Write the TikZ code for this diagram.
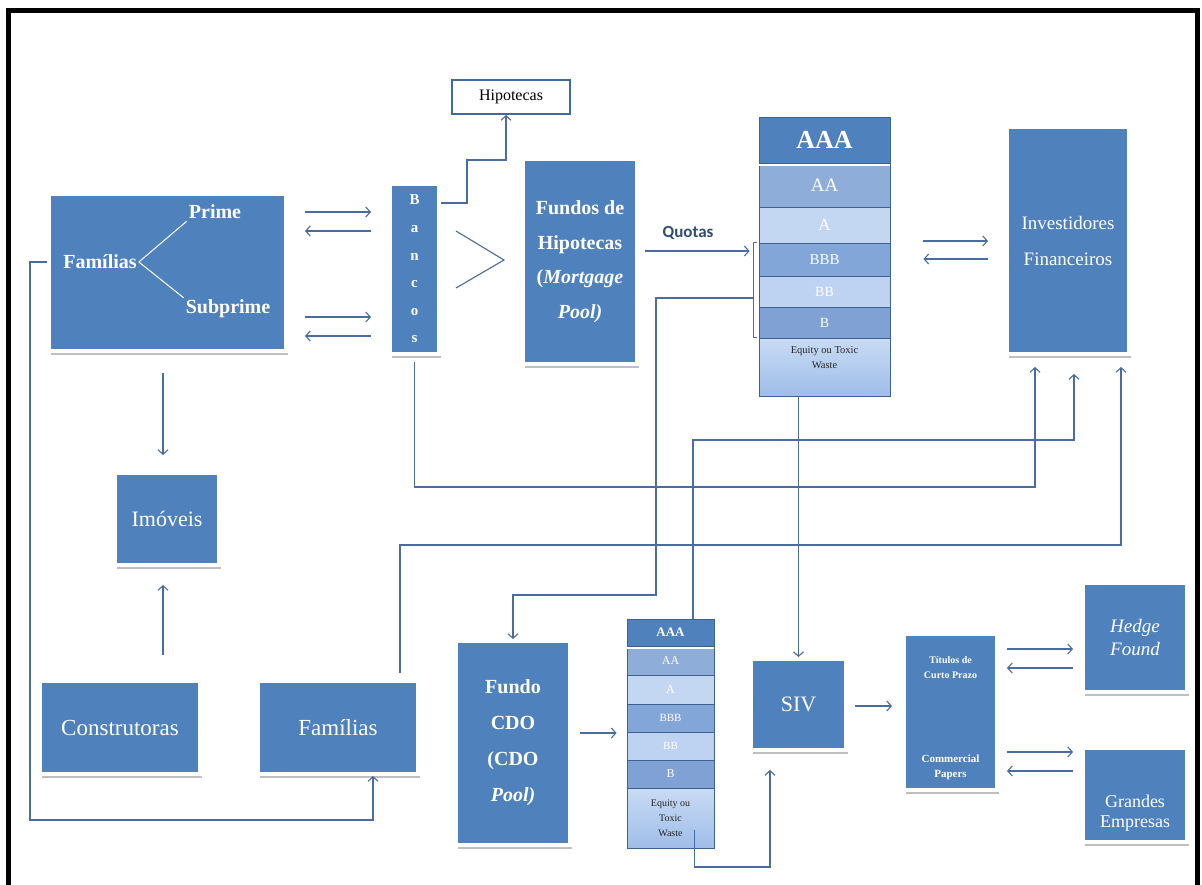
\documentclass[tikz,border=0pt]{standalone}
\usepackage{fontspec}
\setmainfont{Liberation Serif}
\newfontfamily\qfont{Carlito}
\usetikzlibrary{arrows.meta,shadows,calc}
\definecolor{boxblue}{HTML}{4F81BD}
\definecolor{conncol}{HTML}{4A6C9E}
\definecolor{trline}{HTML}{3D6191}
\definecolor{hipcol}{HTML}{3F6A9E}
\definecolor{tAA}{HTML}{8FADD9}
\definecolor{tA}{HTML}{C4D7F2}
\definecolor{tBBB}{HTML}{83A6D8}
\definecolor{tBB}{HTML}{BDD3F1}
\definecolor{tB}{HTML}{7FA1D4}
\definecolor{eqtop}{HTML}{C9DBF4}
\definecolor{eqbot}{HTML}{9FBDE9}
\definecolor{quotacol}{HTML}{2F4C74}
\newcommand\myfs[2]{\fontsize{#1}{#2}\selectfont}

\begin{document}
\begin{tikzpicture}[x=1pt,y=-1pt,
  bluebox/.style={draw=white, line width=4pt, fill=boxblue, inner sep=0pt,
    text=white, align=center,
    drop shadow={shadow xshift=1.5pt, shadow yshift=-4pt, opacity=0.25, fill=black}},
  tr/.style={draw=trline, line width=0.8pt, inner sep=0pt, text=white, align=center},
  wtext/.style={text=white, inner sep=2pt, align=center},
  conn/.style={draw=conncol, line width=1.1pt, -{Straight Barb[length=4.5pt,width=10pt]}},
  link/.style={draw=conncol, line width=1.1pt}]

\useasboundingbox (0,0) rectangle (1202,884);
\fill[white] (0,0) rectangle (1202,884);

% outer frame
\draw[line width=5pt] (8,900) -- (8,10) -- (1197,10) -- (1197,900);

% ---------- boxes ----------
\node[bluebox, minimum width=237, minimum height=157] (fam1) at (167.5,272.5) {};
\node[wtext, font=\bfseries\myfs{20}{24}] (famtxt) at (100,262) {Famílias};
\node[wtext, font=\bfseries\myfs{20}{24}] (prime) at (215,212) {Prime};
\node[wtext, font=\bfseries\myfs{20}{24}] (subprime) at (228,309) {Subprime};
\draw[white, line width=1pt] (famtxt.east) -- (prime.south west);
\draw[white, line width=1pt] (famtxt.east) -- (subprime.north west);

\node[bluebox, minimum width=49, minimum height=170, font=\bfseries\myfs{15}{27.6}]
  (bancos) at (414.5,269) {B\\a\\n\\c\\o\\s};

\node[draw=hipcol, line width=2pt, fill=white, minimum width=118, minimum height=34,
  font=\myfs{16}{18}] (hipo) at (511,97) {Hipotecas};

\node[bluebox, minimum width=114, minimum height=205, font=\bfseries\myfs{20}{34.5}]
  (fundos) at (580,261.5) {Fundos de\\Hipotecas\\(\textit{Mortgage}\\\textit{Pool)}};

\node[bluebox, minimum width=122, minimum height=227, font=\myfs{19}{36}]
  (inv) at (1068,240.5) {Investidores\\Financeiros};

\node[bluebox, minimum width=104, minimum height=92, font=\myfs{22}{26}]
  (imov) at (167,519) {Imóveis};
\node[bluebox, minimum width=160, minimum height=93, font=\myfs{23}{26}]
  (constr) at (120,727.5) {Construtoras};
\node[bluebox, minimum width=160, minimum height=93, font=\myfs{23}{26}]
  (fam2) at (338,727.5) {Famílias};

\node[bluebox, minimum width=114, minimum height=204, font=\bfseries\myfs{20}{36}]
  (cdo) at (513,743) {Fundo\\CDO\\(CDO\\\textit{Pool)}};

\node[bluebox, minimum width=95, minimum height=91, font=\myfs{22}{26}]
  (siv) at (798.5,704.5) {SIV};

\node[bluebox, minimum width=93, minimum height=156] (tit) at (950.5,712) {};
\node[wtext, font=\bfseries\myfs{10}{15}] (tittop) at (950.5,668) {Títulos de\\Curto Prazo};
\node[wtext, font=\bfseries\myfs{11}{15}] (titbot) at (950.5,767) {Commercial\\Papers};

\node[bluebox, minimum width=104, minimum height=109, font=\itshape\myfs{19}{23}]
  (hedge) at (1135,637.5) {Hedge\\Found};
\node[bluebox, minimum width=104, minimum height=94] (grandes) at (1135,795) {};
\node[wtext, font=\myfs{18}{20}] (grtxt) at (1135,813) {Grandes\\Empresas};

% ---------- tranche stack (mortgage pool) ----------
\begin{scope}[tr/.append style={minimum width=131}]
  \node[tr, fill=boxblue, minimum height=46, font=\bfseries\myfs{26}{28}] (s1aaa) at (824.5,140) {AAA};
  \node[tr, fill=tAA, minimum height=44, font=\myfs{19}{21}] (s1aa) at (824.5,185) {AA};
  \node[tr, fill=tA, minimum height=36, font=\myfs{17}{19}] (s1a) at (824.5,225) {A};
  \node[tr, fill=tBBB, minimum height=33, font=\myfs{15}{17}] (s1bbb) at (824.5,259.5) {BBB};
  \node[tr, fill=tBB, minimum height=31, font=\myfs{14}{16}] (s1bb) at (824.5,291.5) {BB};
  \node[tr, fill=tB, minimum height=31, font=\myfs{14}{16}] (s1b) at (824.5,322.5) {B};
  \node[tr, top color=eqtop, bottom color=eqbot, minimum height=58] (s1eq) at (824.5,367) {};
\end{scope}
\draw[white, line width=1.6pt] ([yshift=-1.6pt]s1aaa.south west) -- ([yshift=-1.6pt]s1aaa.south east);
\node[inner sep=0pt, align=center, text=black!85, font=\myfs{10.5}{15}] (s1eqt) at (824.5,357.5) {Equity ou Toxic\\Waste};

% ---------- tranche stack (CDO) ----------
\begin{scope}[tr/.append style={minimum width=87}]
  \node[tr, fill=boxblue, minimum height=27, font=\bfseries\myfs{13}{15}] (s2aaa) at (670.5,632.5) {AAA};
  \node[tr, fill=tAA, minimum height=29, font=\myfs{12}{14}] (s2aa) at (670.5,660.5) {AA};
  \node[tr, fill=tA, minimum height=29, font=\myfs{12}{14}] (s2a) at (670.5,689.5) {A};
  \node[tr, fill=tBBB, minimum height=28, font=\myfs{11}{13}] (s2bbb) at (670.5,718) {BBB};
  \node[tr, fill=tBB, minimum height=28, font=\myfs{11}{13}] (s2bb) at (670.5,746) {BB};
  \node[tr, fill=tB, minimum height=28, font=\myfs{12}{14}] (s2b) at (670.5,774) {B};
  \node[tr, top color=eqtop, bottom color=eqbot, minimum height=60, text=black!85,
    font=\myfs{10}{15}] (s2eq) at (670.5,818) {Equity ou\\Toxic\\Waste};
\end{scope}
\draw[white, line width=1.4pt] ([yshift=-1.4pt]s2aaa.south west) -- ([yshift=-1.4pt]s2aaa.south east);

% ---------- connectors ----------
% families <-> banks
\draw[conn, shorten <=17pt, shorten >=17pt] (fam1.east|-0,212) -- (bancos.west|-0,212);
\draw[conn, shorten <=17pt, shorten >=17pt] (bancos.west|-0,231) -- (fam1.east|-0,231);
\draw[conn, shorten <=17pt, shorten >=17pt] (fam1.east|-0,317) -- (bancos.west|-0,317);
\draw[conn, shorten <=17pt, shorten >=17pt] (bancos.west|-0,336) -- (fam1.east|-0,336);

% banks -> mortgages
\draw[conn] (bancos.east|-0,203) -| (467,160) -| (hipo.south-|506,0);

% banks > mortgage pool
\draw[link] (456,231) -- (504,260) -- (456,288);

% mortgage pool -> tranches
\draw[conn, shorten <=6pt, shorten >=9pt] (fundos.east|-0,251) -- (s1bbb.west|-0,251);
\node[font=\qfont\bfseries\myfs{17}{20}, text=quotacol, inner sep=0pt] (quotas) at (688,233) {Quotas};

% bracket on the lower tranches
\coordinate (brk) at (753,298);
\draw[link, line width=0.9pt] (757,242) -| (753,337) -- (757,337);
\draw[conn] (brk) -| (656,595) -| (cdo.north);

% tranches <-> investors
\draw[conn, shorten <=33pt, shorten >=17pt] (s1bbb.east|-0,241) -- (inv.west|-0,241);
\draw[conn, shorten <=17pt, shorten >=33pt] (inv.west|-0,259) -- (s1bbb.east|-0,259);

% links up to the investors
\draw[conn, shorten <=6pt, shorten >=11pt] (bancos.south) |- (1035,487) -- (inv.south-|1035,0);
\draw[conn, shorten >=18pt] (s2aaa.north-|693,0) |- (1074,440) -- (inv.south-|1074,0);
\draw[conn, shorten <=6pt, shorten >=11pt] (fam2.north-|400,0) |- (1121,545) -- (inv.south-|1121,0);

% tranches -> SIV
\draw[conn] (s1eq.south-|siv.north) -- (siv.north);

% real estate
\draw[conn, shorten <=20pt, shorten >=16pt] (fam1.south-|163,0) -- (imov.north-|163,0);
\draw[conn, shorten <=24pt, shorten >=18pt] (constr.north-|163,0) -- (imov.south-|163,0);

% families loop
\draw[conn] (fam1.west|-0,262) -| (30,820) -| (fam2.south-|373,0);

% CDO
\draw[conn, shorten <=8pt, shorten >=10pt] (cdo.east|-0,733) -- (s2bb.west|-0,733);
\draw[conn, shorten >=18pt] ($(s2eq.center)+(24,12)$) |- (770,867) -- (siv.south-|770,0);

% SIV -> short-term paper
\draw[conn, shorten <=7pt, shorten >=10pt] (siv.east|-0,706) -- (tit.west|-0,706);

% short-term paper <-> hedge funds / corporations
\draw[conn, shorten <=8pt, shorten >=8pt] (tit.east|-0,649) -- (hedge.west|-0,649);
\draw[conn, shorten <=8pt, shorten >=8pt] (hedge.west|-0,668) -- (tit.east|-0,668);
\draw[conn, shorten <=8pt, shorten >=8pt] (tit.east|-0,752) -- (grandes.west|-0,752);
\draw[conn, shorten <=8pt, shorten >=8pt] (grandes.west|-0,771) -- (tit.east|-0,771);

\end{tikzpicture}
\end{document}
